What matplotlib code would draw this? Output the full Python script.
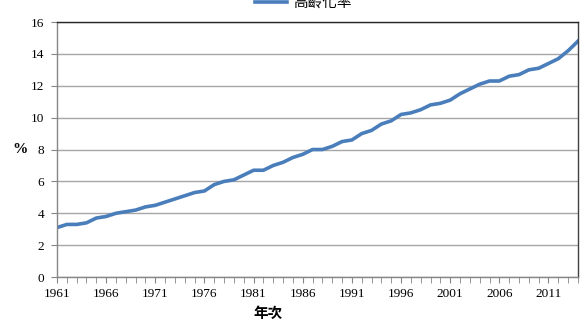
import numpy as np
import matplotlib.pyplot as plt
from matplotlib.ticker import MultipleLocator

# Ageing rate (%) by year.
years = list(range(1961, 2015))
rate = [3.1, 3.3, 3.3, 3.4, 3.7, 3.8, 4.0, 4.1, 4.2, 4.4,
        4.5, 4.7, 4.9, 5.1, 5.3, 5.4, 5.8, 6.0, 6.1, 6.4,
        6.7, 6.7, 7.0, 7.2, 7.5, 7.7, 8.0, 8.0, 8.2, 8.5,
        8.6, 9.0, 9.2, 9.6, 9.8, 10.2, 10.3, 10.5, 10.8, 10.9,
        11.1, 11.5, 11.8, 12.1, 12.3, 12.3, 12.6, 12.7, 13.0, 13.1,
        13.4, 13.7, 14.2, 14.8]
series_name = "高齡化率"
x_label = "年次"
y_label = "%"

serif = ["Liberation Serif", "DejaVu Serif"]
cjk = ["Noto Sans CJK TC", "DejaVu Sans"]

fig = plt.figure(figsize=(5.85, 3.29), dpi=100)
ax = fig.add_axes([0.0974, 0.158, 0.8906, 0.775])

x = np.arange(len(years))
line, = ax.plot(x, rate, color="#4A7EBB", lw=2.6, solid_joinstyle="round")

ax.set_xlim(0, len(years) - 1)
ax.set_ylim(0, 16)
ax.yaxis.set_major_locator(MultipleLocator(2))
ax.grid(axis="y", color="#a6a6a6", lw=1.0)
ax.set_axisbelow(True)

ax.set_xticks(x[::5])
ax.set_xticklabels([str(y) for y in years[::5]])
ax.set_xticks(x, minor=True)
ax.tick_params(axis="x", which="both", direction="out", length=4,
               color="#868686", pad=4)
ax.tick_params(axis="y", length=4, color="#868686", direction="out", pad=5)

for lab in ax.get_xticklabels() + ax.get_yticklabels():
    lab.set_family(serif)
    lab.set_fontsize(9.5)

ax.spines["left"].set_color("#868686")
ax.spines["bottom"].set_color("#868686")
ax.spines["top"].set_color("#262626")
ax.spines["right"].set_color("#404040")
for s in ax.spines.values():
    s.set_linewidth(1.0)

fig.text(0.035, 0.545, y_label, fontsize=11, fontweight="bold", family=serif,
         ha="center", va="center")
fig.text(0.458, 0.05, x_label, fontsize=10.5, fontweight="bold", family=cjk,
         ha="center", va="center")

# legend sits at the very top edge, partly cut off as in the reference
fig.legend([line], [series_name], loc="center", bbox_to_anchor=(0.518, 0.992),
           frameon=False, prop={"family": cjk, "size": 10.5}, handlelength=2.2,
           handletextpad=0.4, borderpad=0)

fig.savefig("out.png", dpi=100)
